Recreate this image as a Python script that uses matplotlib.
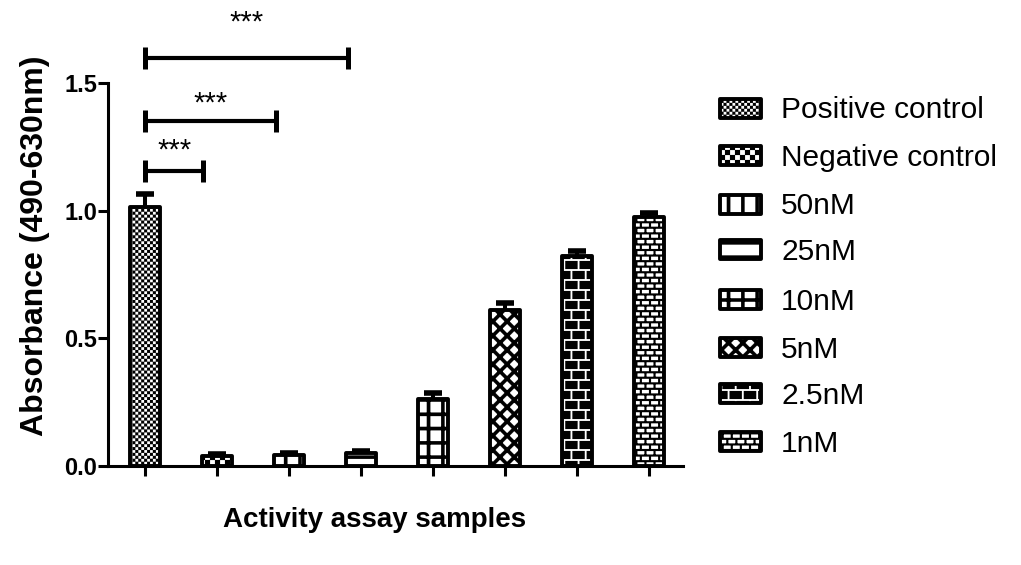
import warnings
import numpy as np
import matplotlib
matplotlib.use('Agg')
import matplotlib.pyplot as plt
import matplotlib.hatch as mhatch
from matplotlib.path import Path
from matplotlib.patches import Rectangle

warnings.filterwarnings('ignore')

# data
labels = ['Positive control', 'Negative control', '50nM', '25nM',
          '10nM', '5nM', '2.5nM', '1nM']
means = [1.015, 0.040, 0.045, 0.050, 0.262, 0.609, 0.824, 0.977]
errs = [0.050, 0.006, 0.006, 0.008, 0.023, 0.028, 0.016, 0.015]

# significance brackets: (start bar, end position, bracket height, star baseline)
sig_start = [0, 0, 0]
sig_end = [0.81, 1.82, 2.82]
sig_y = [1.155, 1.351, 1.598]
sig_text_y = [1.205, 1.388, 1.705]
sig_text = ['***', '***', '***']

# one texture per bar (custom hatch types registered below)
hatches = ['.', 'o', '|', '-', '+', 'x', 'O', '*']

plt.rcParams['font.family'] = ['Liberation Sans', 'DejaVu Sans']
plt.rcParams['hatch.linewidth'] = 0.1

# ---- textures: every element is a filled quad inside a 100 px hatch tile ----
CELL = 100.0


def _rect(x0, y0, x1, y1):
    return [(x0, y0), (x1, y0), (x1, y1), (x0, y1)]


def checker(n):
    s = 1.0 / n
    return [_rect(i * s, j * s, (i + 1) * s, (j + 1) * s)
            for i in range(n) for j in range(n) if (i + j) % 2 == 0]


def stripes(n, t, vertical):
    p, w = 1.0 / n, t / CELL / 2
    out = []
    for k in range(n + 1):
        if vertical:
            out.append(_rect(k * p - w, -0.02, k * p + w, 1.02))
        else:
            out.append(_rect(-0.02, k * p - w, 1.02, k * p + w))
    return out


def diagonals(n, t):
    p, h = 1.0 / n, t / CELL / 2 * np.sqrt(2)
    a, b = -0.05, 1.05
    out = []
    for k in range(-n - 1, 2 * n + 2):
        c = k * p
        out.append([(a, a + c - h), (b, b + c - h), (b, b + c + h), (a, a + c + h)])
        out.append([(a, -a + c - h), (b, -b + c - h), (b, -b + c + h), (a, -a + c + h)])
    return out


def bricks(rows, cols, gap):
    rh, bw, g = 1.0 / rows, 1.0 / cols, gap / CELL / 2
    out = []
    for r in range(rows):
        shift = 0.5 * (r % 2)
        for k in range(-1, cols + 1):
            x = (k + shift) * bw
            out.append(_rect(x + g, r * rh + g, x + bw - g, (r + 1) * rh - g))
    return out


def mortar(rows, cols, t):
    rh, bw, w = 1.0 / rows, 1.0 / cols, t / CELL / 2
    out = [_rect(-0.02, r * rh - w, 1.02, r * rh + w) for r in range(rows + 1)]
    for r in range(rows):
        shift = 0.5 * (r % 2)
        for k in range(-1, cols + 1):
            x = (k + shift) * bw
            out.append(_rect(x - w, r * rh, x + w, (r + 1) * rh))
    return out


TEXTURES = {
    '.': checker(34),
    'o': checker(20),
    '|': stripes(7, 3.5, True),
    '-': stripes(7, 3.5, False),
    '+': stripes(7, 3.5, True) + stripes(7, 3.5, False),
    'x': diagonals(7, 3.5),
    'O': bricks(10, 7, 2.0),
    '*': mortar(18, 11, 2.0),
}


class TextureHatch(mhatch.HatchPatternBase):
    def __init__(self, hatch, density):
        self.quads = TEXTURES.get(hatch, [])
        self.num_vertices = 5 * len(self.quads)

    def set_vertices_and_codes(self, vertices, codes):
        for i, q in enumerate(self.quads):
            vertices[5 * i:5 * i + 4] = q
            vertices[5 * i + 4] = q[0]
            codes[5 * i] = Path.MOVETO
            codes[5 * i + 1:5 * i + 4] = Path.LINETO
            codes[5 * i + 4] = Path.CLOSEPOLY


mhatch._hatch_types = [TextureHatch]

# ---- figure ----
W, H = 1021, 565
fig = plt.figure(figsize=(W / 100, H / 100), dpi=100)
ax = fig.add_axes([0.1058, 0.1752, 0.563, 0.678])

x = np.arange(len(labels))
bars = ax.bar(x, means, width=0.42, color='white', edgecolor='black',
              linewidth=2.8, zorder=3)
for b, h in zip(bars, hatches):
    b.set_hatch(h)
    b.set_joinstyle('round')

eb = ax.errorbar(x, means, yerr=[np.zeros(len(errs)), errs], fmt='none',
                 ecolor='black', elinewidth=2.9, capsize=6.5, capthick=4,
                 zorder=2)
for cl in eb[1]:
    if np.allclose(cl.get_ydata(), means):
        cl.set_visible(False)

# brackets with stars
for s, e, y, ty, t in zip(sig_start, sig_end, sig_y, sig_text_y, sig_text):
    ax.plot([s, e], [y, y], color='black', lw=3, solid_capstyle='butt', clip_on=False)
    for xe in (s, e):
        ax.plot([xe, xe], [y - 0.043, y + 0.043], color='black', lw=3.6,
                solid_capstyle='butt', clip_on=False)
    ax.text((s + e) / 2, ty, t, ha='center', va='baseline', fontsize=21)

ax.set_xlim(-0.514, 7.47)
ax.set_ylim(0, 1.5)
for side in ('top', 'right'):
    ax.spines[side].set_visible(False)
for side in ('left', 'bottom'):
    ax.spines[side].set_linewidth(2.2)

ax.set_yticks([0, 0.5, 1.0, 1.5])
ax.set_yticklabels(['0.0', '0.5', '1.0', '1.5'], fontweight='bold', fontsize=17)
ax.set_xticks(x)
ax.tick_params(axis='y', length=7, width=2.2, pad=1)
ax.tick_params(axis='x', length=7, width=2.2, labelbottom=False)

ax.set_ylabel('Absorbance (490-630nm)', fontsize=23, fontweight='bold', va='center')
ax.yaxis.set_label_coords(-0.127, 0.574)
ax.set_xlabel('Activity assay samples', fontsize=20, fontweight='bold', va='center')
ax.xaxis.set_label_coords(0.4635, -0.141)

# legend drawn as patches + text at pixel rows (centre of each row, px from top)
leg_rows = [108, 155, 204, 249, 299, 347, 393, 441]
for lab, h, yc in zip(labels, hatches, leg_rows):
    r = Rectangle((720 / W, 1 - (yc + 9.5) / H), 41 / W, 19 / H,
                  transform=fig.transFigure, facecolor='white', edgecolor='black',
                  linewidth=2.8, hatch=h, joinstyle='round')
    fig.patches.append(r)
    fig.text(781 / W, 1 - (yc + 10.5) / H, lab, fontsize=21.5, va='baseline', ha='left')

fig.savefig('out.png', dpi=100)
